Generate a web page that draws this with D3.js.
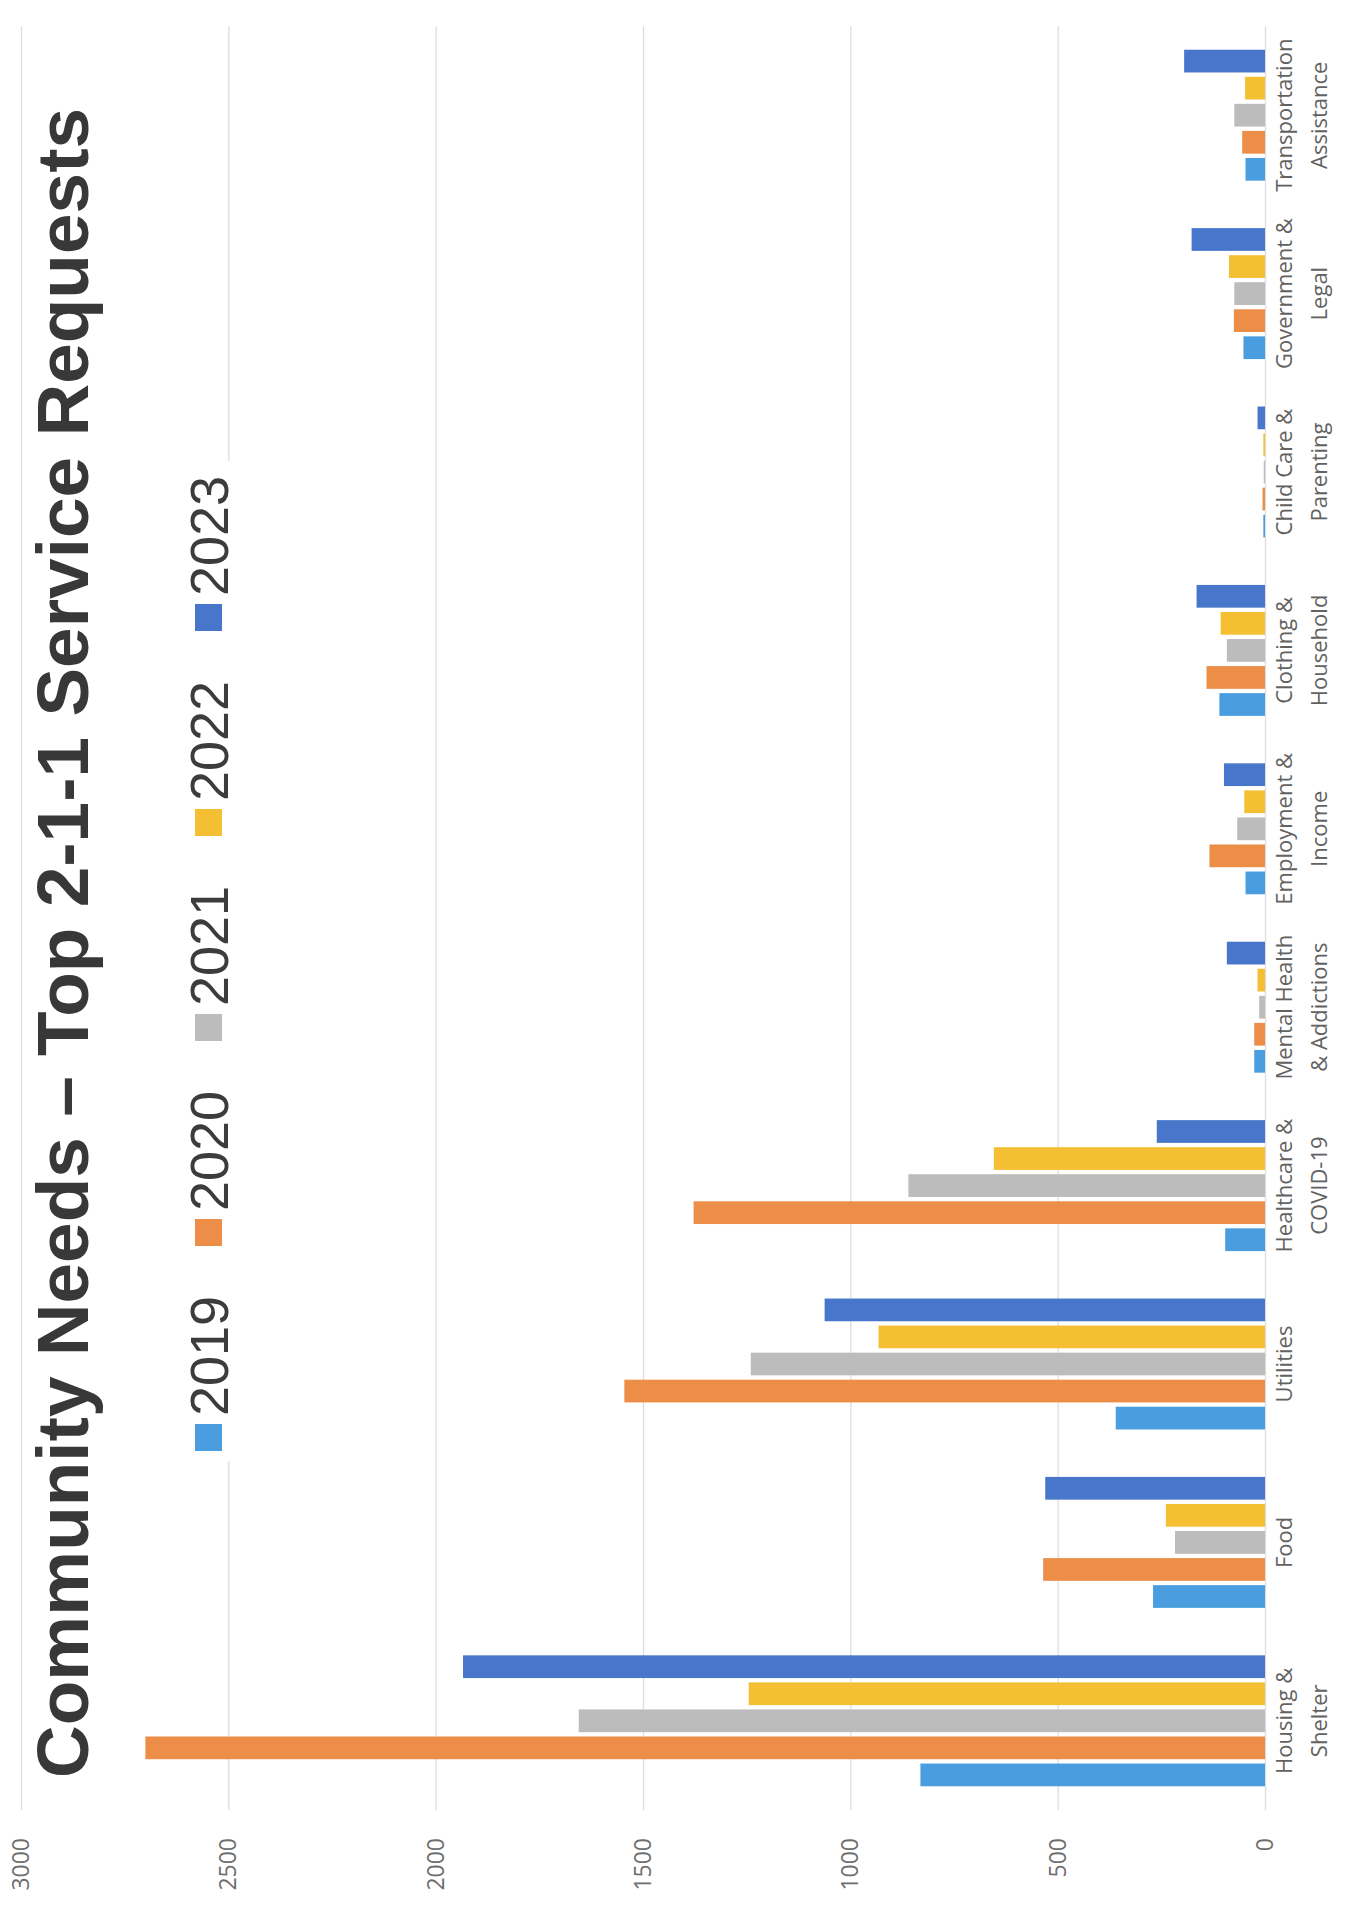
<!DOCTYPE html>
<html lang="en">
  <head>
    <meta charset="utf-8">
    <title>Community Needs - Top 2-1-1 Service Requests</title>
    <script src="https://d3js.org/d3.v7.min.js"></script>
    <style>
      body { margin: 0; background: #fff; }
      svg { display: block; }
    </style>
  </head>
  <body>
    <script>
      const categories = [
        ['Housing &', 'Shelter'],
        ['Food'],
        ['Utilities'],
        ['Healthcare &', 'COVID-19'],
        ['Mental Health', '& Addictions'],
        ['Employment &', 'Income'],
        ['Clothing &', 'Household'],
        ['Child Care &', 'Parenting'],
        ['Government &', 'Legal'],
        ['Transportation', 'Assistance']
      ];
      const years = ['2019', '2020', '2021', '2022', '2023'];
      const values2019 = [831, 270, 360, 96, 26, 47, 110, 4, 52, 47];
      const values2020 = [2700, 535, 1545, 1378, 26, 134, 141, 6, 75, 55];
      const values2021 = [1655, 217, 1240, 860, 14, 67, 92, 3, 74, 74];
      const values2022 = [1245, 239, 932, 654, 18, 50, 107, 4, 87, 48];
      const values2023 = [1934, 530, 1062, 261, 92, 99, 165, 18, 177, 195];
      const yTicks = [0, 500, 1000, 1500, 2000, 2500, 3000];
      const colors = ['#4a9ee0', '#ec8e47', '#bcbcbc', '#f4bf33', '#4876cb'];

      const series = [values2019, values2020, values2021, values2022, values2023];

      const W = 1359, H = 1906;
      // the original chart is landscape and was scanned turned on its side,
      // so draw it upright in a H x W frame and rotate it into the page
      const plot = { left: 96, right: 1880, top: 21, bottom: 1265 };

      const svg = d3.select('body').append('svg')
          .attr('width', W)
          .attr('height', H);

      const g = svg.append('g')
          .attr('transform', `translate(0,${H}) rotate(-90)`);

      const x = d3.scaleBand()
          .domain(d3.range(categories.length))
          .range([plot.left, plot.right])
          .paddingInner(0.266)
          .paddingOuter(0.133);

      const xi = d3.scaleBand()
          .domain(years)
          .range([0, x.bandwidth()])
          .paddingInner(0.16);

      const y = d3.scaleLinear()
          .domain([0, 3000])
          .range([plot.bottom, plot.top]);

      // gridlines + value labels
      const yAxis = g.append('g')
          .attr('transform', `translate(${plot.left},0)`)
          .call(d3.axisLeft(y)
              .tickValues(yTicks)
              .tickFormat(d3.format('d'))
              .tickSize(-(plot.right - plot.left))
              .tickPadding(28));

      yAxis.select('.domain').remove();
      yAxis.selectAll('.tick line')
          .attr('stroke', '#dedede')
          .attr('stroke-width', 1.3);
      yAxis.selectAll('.tick text')
          .attr('fill', '#6e6e6e')
          .style('font-family', '"Open Sans", sans-serif')
          .style('font-size', '23px');

      // bars
      const groups = g.append('g').selectAll('g')
          .data(categories)
          .join('g')
          .attr('transform', (d, i) => `translate(${x(i)},0)`);

      groups.selectAll('rect')
          .data((d, i) => series.map((s, k) => ({ year: years[k], value: s[i], k: k })))
          .join('rect')
          .attr('x', d => xi(d.year))
          .attr('width', xi.bandwidth())
          .attr('y', d => y(d.value))
          .attr('height', d => y(0) - y(d.value))
          .attr('fill', d => colors[d.k]);

      // category labels
      const catText = g.append('g').selectAll('text')
          .data(categories)
          .join('text')
          .attr('text-anchor', 'middle')
          .attr('fill', '#626262')
          .style('font-family', '"Open Sans", sans-serif')
          .style('font-size', '22px');

      catText.selectAll('tspan')
          .data((d, i) => d.map(line => ({ line: line, i: i })))
          .join('tspan')
          .attr('x', d => x(d.i) + x.bandwidth() / 2)
          .attr('y', (d, j) => 1292 + j * 35)
          .text(d => d.line);

      // title
      g.append('text')
          .attr('x', 128)
          .attr('y', 88)
          .attr('fill', '#383838')
          .style('font-family', '"Liberation Sans", Arial, sans-serif')
          .style('font-weight', 'bold')
          .style('font-size', '73px')
          .text('Community Needs \u2013 Top 2-1-1 Service Requests');

      // legend (white box covers the gridline like the original)
      const legend = g.append('g');
      legend.append('rect')
          .attr('x', 445)
          .attr('y', 176)
          .attr('width', 1000)
          .attr('height', 68)
          .attr('fill', '#fff');

      const item = legend.selectAll('g.item')
          .data(years)
          .join('g')
          .attr('class', 'item')
          .attr('transform', (d, i) => `translate(${455 + i * 205},209)`);

      item.append('rect')
          .attr('x', 0)
          .attr('y', -14)
          .attr('width', 27)
          .attr('height', 27)
          .attr('fill', (d, i) => colors[i]);

      item.append('text')
          .attr('x', 35)
          .attr('y', 19)
          .attr('fill', '#3c3c3c')
          .style('font-family', '"Liberation Sans", Arial, sans-serif')
          .style('font-size', '54px')
          .text(d => d);
    </script>
  </body>
</html>
